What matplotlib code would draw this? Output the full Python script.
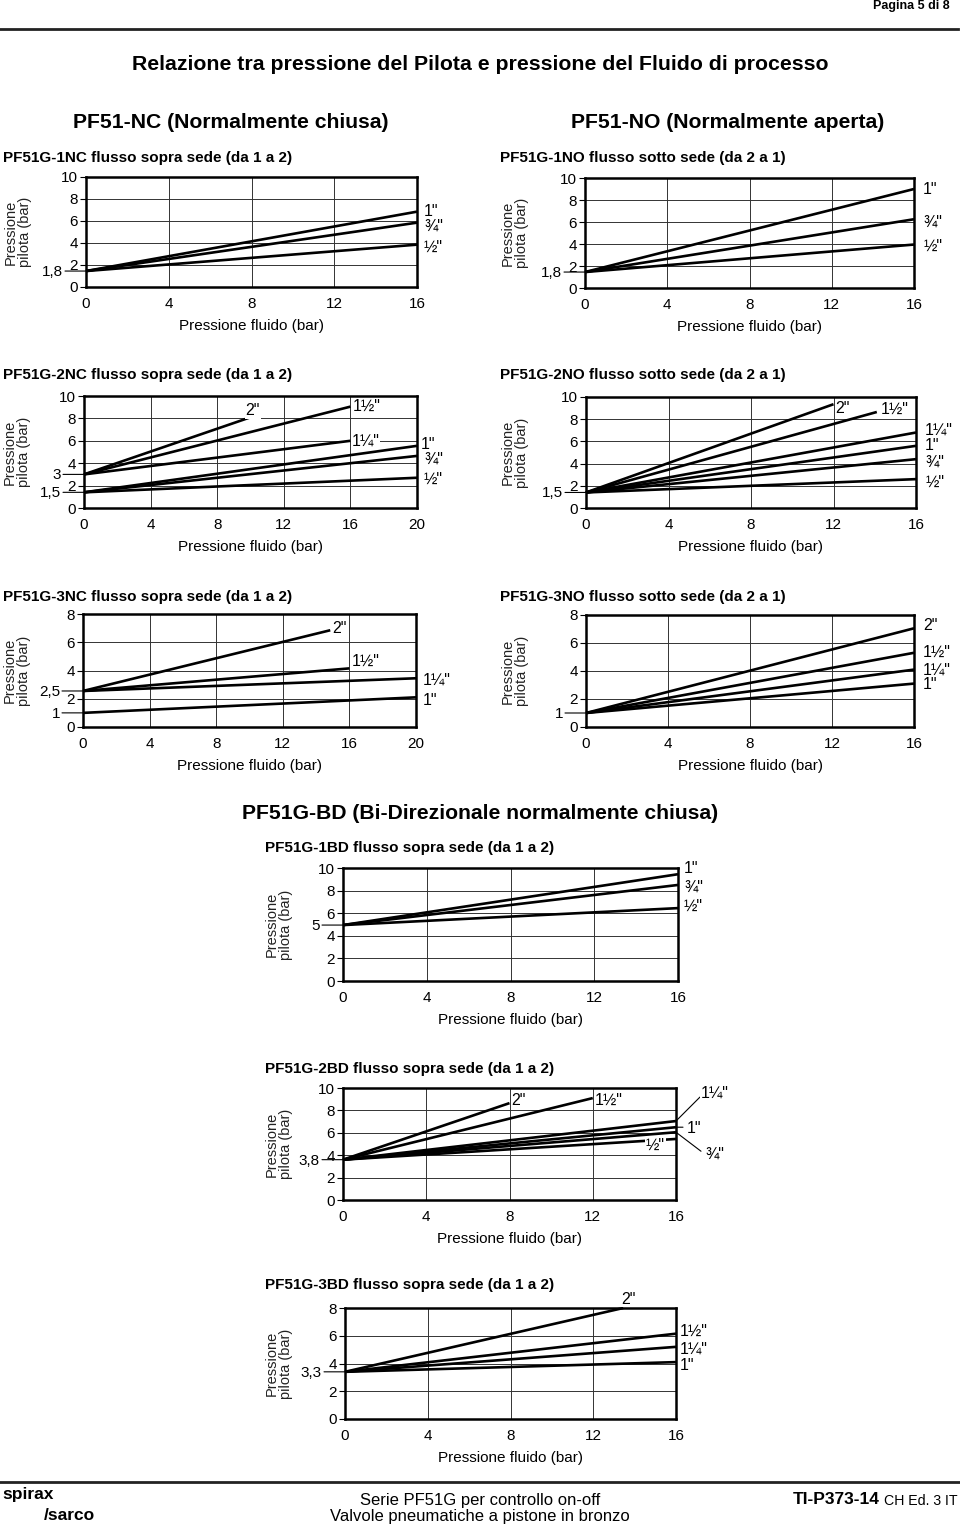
import matplotlib.pyplot as plt

plt.rcParams['font.family'] = ['Liberation Sans', 'DejaVu Sans']

# ---- data (x = fluid bar, y = pilot bar) ----
nc1_sizes = ['1"', '¾"', '½"']
nc1_y0 = [1.45, 1.45, 1.45]
nc1_x1 = [16, 16, 16]
nc1_y1 = [6.85, 5.85, 3.85]
nc1_marks, nc1_mark_labels = [1.45], ['1,8']

no1_sizes = ['1"', '¾"', '½"']
no1_y0 = [1.45, 1.45, 1.45]
no1_x1 = [16, 16, 16]
no1_y1 = [9.0, 6.25, 3.95]
no1_marks, no1_mark_labels = [1.45], ['1,8']

nc2_sizes = ['2"', '1½"', '1¼"', '1"', '¾"', '½"']
nc2_y0 = [3.0, 3.0, 3.0, 1.4, 1.4, 1.4]
nc2_x1 = [10, 16, 16, 20, 20, 20]
nc2_y1 = [8.1, 9.05, 6.0, 5.55, 4.65, 2.7]
nc2_marks, nc2_mark_labels = [3.0, 1.4], ['3', '1,5']

no2_sizes = ['2"', '1½"', '1¼"', '1"', '¾"', '½"']
no2_y0 = [1.4, 1.4, 1.4, 1.4, 1.4, 1.4]
no2_x1 = [12, 14.1, 16, 16, 16, 16]
no2_y1 = [9.35, 8.65, 6.8, 5.6, 4.4, 2.6]
no2_marks, no2_mark_labels = [1.4], ['1,5']

nc3_sizes = ['2"', '1½"', '1¼"', '1"']
nc3_y0 = [2.55, 2.55, 2.55, 1.0]
nc3_x1 = [14.85, 16, 20, 20]
nc3_y1 = [6.85, 4.15, 3.45, 2.1]
nc3_marks, nc3_mark_labels = [2.55, 1.0], ['2,5', '1']

no3_sizes = ['2"', '1½"', '1¼"', '1"']
no3_y0 = [1.0, 1.0, 1.0, 1.0]
no3_x1 = [16, 16, 16, 16]
no3_y1 = [7.05, 5.3, 4.1, 3.1]
no3_marks, no3_mark_labels = [1.0], ['1']

bd1_sizes = ['1"', '¾"', '½"']
bd1_y0 = [4.95, 4.95, 4.95]
bd1_x1 = [16, 16, 16]
bd1_y1 = [9.45, 8.5, 6.45]
bd1_marks, bd1_mark_labels = [4.95], ['5']

bd2_sizes = ['2"', '1½"', '1¼"', '1"', '¾"', '½"']
bd2_y0 = [3.6, 3.6, 3.6, 3.6, 3.6, 3.6]
bd2_x1 = [8, 12, 16, 16, 16, 16]
bd2_y1 = [8.65, 9.1, 7.05, 6.5, 6.05, 5.45]
bd2_marks, bd2_mark_labels = [3.6], ['3,8']

bd3_sizes = ['2"', '1½"', '1¼"', '1"']
bd3_y0 = [3.4, 3.4, 3.4, 3.4]
bd3_x1 = [13.45, 16, 16, 16]
bd3_y1 = [8.0, 6.15, 5.2, 4.1]
bd3_marks, bd3_mark_labels = [3.4], ['3,3']

W, H = 960, 1526
fig = plt.figure(figsize=(W / 100, H / 100), dpi=100)


def px_axes(l, t, r, b):
    return fig.add_axes([l / W, 1 - b / H, (r - l) / W, (b - t) / H])


def px_text(x, y, s, **kw):
    fig.text(x / W, 1 - y / H, s, **kw)


def chart(box, title, title_xy, ylab_x, xmax, ymax, sizes, y0, x1, y1,
          marks, mark_labels, offsets, leaders=None):
    ax = px_axes(*box)
    ax.set_xlim(0, xmax)
    ax.set_ylim(0, ymax)
    ax.set_xticks(range(0, xmax + 1, 4))
    ax.set_yticks(range(0, ymax + 1, 2))
    ax.grid(True, color='#333333', lw=0.7)
    ax.set_axisbelow(True)
    for sp in ax.spines.values():
        sp.set_linewidth(1.8)
    ax.tick_params(axis='y', length=4.5, width=0.8, pad=1.5, labelsize=11)
    ax.tick_params(axis='x', length=0, pad=7, labelsize=11)
    ax.set_xlabel('Pressione fluido (bar)', fontsize=11, labelpad=6)

    for i, s in enumerate(sizes):
        ax.plot([0, x1[i]], [y0[i], y1[i]], color='black', lw=1.9,
                solid_capstyle='butt', clip_on=False, zorder=3)
        dx, dy = offsets[i]
        ax.annotate(s, xy=(x1[i], y1[i]), xytext=(dx, dy),
                    textcoords='offset pixels', ha='left', va='center',
                    fontsize=11.5, zorder=4,
                    bbox=dict(boxstyle='square,pad=0.05', fc='white', ec='none'))
        if leaders and i in leaders:
            lx, ly = leaders[i]
            ax.annotate('', xy=(x1[i], y1[i]), xytext=(lx, ly),
                        textcoords='offset pixels',
                        arrowprops=dict(arrowstyle='-', lw=0.8, color='black',
                                        shrinkA=0, shrinkB=0))

    ytr = ax.get_yaxis_transform()
    for m, lab in zip(marks, mark_labels):
        ax.annotate('', xy=(0, m), xycoords=ytr, xytext=(-21, 0),
                    textcoords='offset pixels',
                    arrowprops=dict(arrowstyle='-', lw=0.8, color='black',
                                    shrinkA=0, shrinkB=0))
        ax.annotate(lab, xy=(0, m), xycoords=ytr, xytext=(-23, -1),
                    textcoords='offset pixels', ha='right', va='center',
                    fontsize=11)

    l, t, r, b = box
    px_text(ylab_x, (t + b) / 2, 'Pressione\npilota (bar)', rotation=90,
            ha='center', va='center', fontsize=10.5, linespacing=1.05,
            color='#222222')
    px_text(title_xy[0], title_xy[1], title, ha='left', va='center',
            fontsize=11, fontweight='bold')
    return ax


# ---- page header ----
px_text(950, 6, 'Pagina 5 di 8', ha='right', va='center', fontsize=9,
        fontweight='bold')
fig.add_artist(plt.Line2D([0, 958 / W], [1 - 29 / H, 1 - 29 / H],
                          color='#222222', lw=2))
px_text(480, 64, 'Relazione tra pressione del Pilota e pressione del Fluido di processo',
        ha='center', va='center', fontsize=15.3, fontweight='bold')
px_text(231, 123, 'PF51-NC (Normalmente chiusa)', ha='center', va='center',
        fontsize=15.2, fontweight='bold')
px_text(728, 123, 'PF51-NO (Normalmente aperta)', ha='center', va='center',
        fontsize=15.2, fontweight='bold')
px_text(480, 813, 'PF51G-BD (Bi-Direzionale normalmente chiusa)', ha='center',
        va='center', fontsize=15.2, fontweight='bold')

# ---- charts ----
chart((86, 177, 417, 287), 'PF51G-1NC flusso sopra sede (da 1 a 2)', (3, 158), 18,
      16, 10, nc1_sizes, nc1_y0, nc1_x1, nc1_y1, nc1_marks, nc1_mark_labels,
      [(7, 0), (7, -4), (7, -3)])
chart((585, 178, 914, 288), 'PF51G-1NO flusso sotto sede (da 2 a 1)', (500, 158), 515,
      16, 10, no1_sizes, no1_y0, no1_x1, no1_y1, no1_marks, no1_mark_labels,
      [(9, 0), (9, -3), (9, -2)])
chart((84, 396, 417, 508), 'PF51G-2NC flusso sopra sede (da 1 a 2)', (3, 375), 17,
      20, 10, nc2_sizes, nc2_y0, nc2_x1, nc2_y1, nc2_marks, nc2_mark_labels,
      [(-5, 7), (2, 0), (1, 0), (4, 1), (7, -3), (7, -2)])
chart((586, 397, 916, 508), 'PF51G-2NO flusso sotto sede (da 2 a 1)', (500, 375), 515,
      16, 10, no2_sizes, no2_y0, no2_x1, no2_y1, no2_marks, no2_mark_labels,
      [(2, -4), (4, 3), (9, 2), (9, 0), (9, -3), (9, -3)])
chart((83, 614, 416, 727), 'PF51G-3NC flusso sopra sede (da 1 a 2)', (3, 597), 17,
      20, 8, nc3_sizes, nc3_y0, nc3_x1, nc3_y1, nc3_marks, nc3_mark_labels,
      [(2, 2), (2, 7), (7, -2), (7, -3)])
chart((586, 615, 914, 727), 'PF51G-3NO flusso sotto sede (da 2 a 1)', (500, 597), 515,
      16, 8, no3_sizes, no3_y0, no3_x1, no3_y1, no3_marks, no3_mark_labels,
      [(9, 3), (9, 0), (9, -1), (9, -1)])
chart((343, 868, 678, 981), 'PF51G-1BD flusso sopra sede (da 1 a 2)', (265, 848), 279,
      16, 10, bd1_sizes, bd1_y0, bd1_x1, bd1_y1, bd1_marks, bd1_mark_labels,
      [(6, 6), (6, -2), (6, 2)])
chart((343, 1088, 676, 1200), 'PF51G-2BD flusso sopra sede (da 1 a 2)', (265, 1069), 279,
      16, 10, bd2_sizes, bd2_y0, bd2_x1, bd2_y1, bd2_marks, bd2_mark_labels,
      [(2, 3), (2, -2), (25, 28), (11, -1), (29, -22), (-30, -6)],
      leaders={2: (24, 24), 3: (7, 0), 4: (25, -19)})
chart((345, 1308, 676, 1419), 'PF51G-3BD flusso sopra sede (da 1 a 2)', (265, 1285), 279,
      16, 8, bd3_sizes, bd3_y0, bd3_x1, bd3_y1, bd3_marks, bd3_mark_labels,
      [(-2, 9), (4, 2), (4, -2), (4, -3)])

# ---- footer ----
fig.add_artist(plt.Line2D([0, 1], [1 - 1482 / H, 1 - 1482 / H],
                          color='#222222', lw=2))
px_text(2, 1495, 'spirax', ha='left', va='center', fontsize=12.5, fontweight='bold')
px_text(44, 1515, '/sarco', ha='left', va='center', fontsize=12.5, fontweight='bold')
px_text(480, 1500, 'Serie PF51G per controllo on-off', ha='center', va='center',
        fontsize=12)
px_text(480, 1516, 'Valvole pneumatiche a pistone in bronzo', ha='center',
        va='center', fontsize=12)
px_text(880, 1500, 'TI-P373-14', ha='right', va='center', fontsize=12.5,
        fontweight='bold')
px_text(884, 1501, 'CH Ed. 3 IT', ha='left', va='center', fontsize=10.2)

fig.savefig('out.png', dpi=100)
